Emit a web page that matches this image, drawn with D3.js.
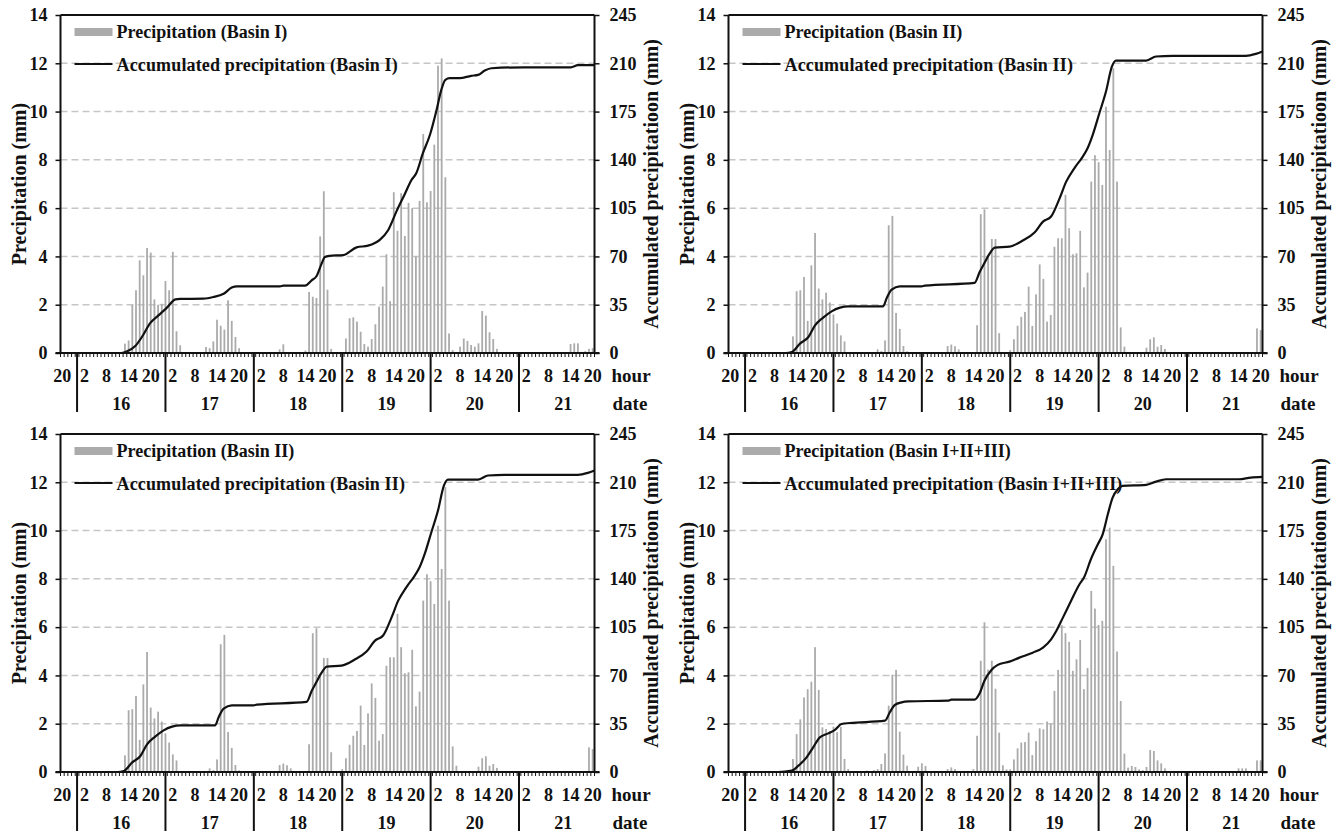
<!DOCTYPE html>
<html>
<head>
<meta charset="utf-8">
<script src="https://cdn.jsdelivr.net/npm/d3@7"></script>
<style>
  body { margin: 0; background: #fff; }
  svg text { font-family: 'Liberation Serif', 'Times New Roman', serif; font-weight: bold; fill: #111; }
</style>
</head>
<body>
<div id="chart"></div>
<script>
// Hourly series start at 20:00 on the 15th (index 0) and end at 20:00 on the 21st (index 144)
const startHour = 20;
const startDay = 15;
const hourCount = 145;
const hourTickStep = 6;
const dayLabels = [16, 17, 18, 19, 20, 21];

const precipTicks = [0, 2, 4, 6, 8, 10, 12, 14];
const accumTicks = [0, 35, 70, 105, 140, 175, 210, 245];

// Hourly precipitation (mm), Basin I
const precipBasinI = [
  0, 0, 0, 0, 0, 0, 0, 0, 0, 0, 0, 0, 0, 0, 0, 0, 0,
  0.39, 0.52, 2.0, 2.6, 3.84, 3.22, 4.35, 4.16, 2.22, 2.0, 2.04, 2.98, 2.6, 4.19, 0.9, 0.32,
  0, 0, 0, 0, 0, 0,
  0.25, 0.2, 0.48, 1.38, 1.13, 0.97, 2.18, 1.33, 0.66, 0.2,
  0, 0, 0, 0, 0, 0, 0, 0, 0, 0,
  0.15, 0.36, 0.04, 0, 0, 0, 0,
  0.1, 2.53, 2.33, 2.28, 4.83, 6.7, 2.62, 0.17, 0, 0, 0,
  0.6, 1.44, 1.48, 1.3, 0.88, 0.37, 0.26, 0.58, 1.19, 1.92, 2.75, 4.09, 2.15, 6.66, 5.06, 6.62,
  4.85, 6.22, 6.0, 4.0, 6.3, 9.07, 6.24, 6.71, 8.63, 11.9, 12.2, 7.28, 0.81, 0.12, 0,
  0.26, 0.6, 0.5, 0.33, 0.26, 0.4, 1.74, 1.55, 0.86, 0.58, 0.17,
  0, 0, 0, 0, 0, 0, 0, 0, 0, 0, 0, 0, 0, 0, 0, 0, 0, 0, 0,
  0.37, 0.4, 0.4, 0.05, 0.08, 0.17, 0.2
];

// Hourly precipitation (mm), Basin II
const precipBasinII = [
  0, 0, 0, 0, 0, 0, 0, 0, 0, 0, 0, 0, 0, 0, 0, 0, 0,
  0.69, 2.56, 2.6, 3.15, 1.33, 3.63, 4.97, 2.67, 2.22, 2.5, 2.09, 1.6, 1.22, 0.73, 0.48,
  0, 0, 0, 0, 0, 0, 0, 0,
  0.15, 0.08, 0.52, 5.29, 5.68, 1.66, 1.0, 0.29, 0.07,
  0, 0, 0, 0, 0, 0, 0, 0, 0, 0,
  0.29, 0.35, 0.28, 0.15, 0, 0, 0, 0,
  1.15, 5.75, 5.95, 4.05, 4.72, 4.72, 0.82, 0, 0,
  0.12, 0.57, 1.13, 1.5, 1.7, 2.75, 1.12, 2.43, 3.67, 3.07, 1.3, 1.57, 4.4, 4.75, 4.75, 6.55,
  5.17, 4.09, 4.13, 5.06, 2.72, 3.33, 7.1, 8.19, 7.9, 6.96, 10.2, 8.41, 11.8, 7.1, 1.06, 0.26,
  0, 0, 0, 0, 0,
  0.22, 0.57, 0.65, 0.26, 0.33, 0.17,
  0, 0, 0, 0, 0, 0, 0, 0, 0, 0, 0, 0, 0, 0, 0, 0, 0, 0, 0, 0, 0, 0, 0, 0,
  1.02, 0.95
];

// Hourly precipitation (mm), Basin I+II+III
const precipBasinAll = [
  0, 0, 0, 0, 0, 0, 0, 0, 0, 0, 0, 0, 0, 0, 0, 0, 0,
  0.54, 1.57, 2.18, 3.09, 3.43, 3.74, 5.17, 3.4, 1.85, 1.78, 1.7, 1.88, 1.65, 1.87, 0.54, 0.12,
  0, 0, 0, 0,
  0.06, 0, 0.08, 0.12, 0.33, 0.77, 2.75, 4.03, 4.23, 1.67, 0.72, 0.26,
  0, 0,
  0.22, 0.36, 0.25, 0, 0, 0, 0, 0,
  0.12, 0.19, 0.12, 0, 0, 0, 0,
  0.12, 1.5, 4.61, 6.2, 4.24, 4.61, 3.45, 1.63, 0.28, 0.11, 0.11,
  0.52, 0.98, 1.22, 1.24, 1.63, 0.7, 1.28, 1.81, 1.77, 2.09, 2.0, 3.36, 4.23, 6.08, 5.75, 5.39,
  4.19, 4.67, 5.47, 3.43, 4.31, 7.5, 6.77, 6.09, 6.26, 9.64, 10.12, 8.54, 4.99, 2.94, 0.76,
  0.18, 0.25, 0.21, 0.11, 0.08, 0.21, 0.91, 0.87, 0.48, 0.36, 0.15,
  0, 0, 0, 0, 0, 0, 0, 0, 0, 0, 0, 0, 0, 0, 0, 0, 0, 0, 0,
  0.15, 0.15, 0.15, 0, 0, 0.48, 0.48
];

// Accumulated precipitation (mm), as [hour index, mm]
const accumBasinI = [
  [0, 0], [16, 0], [17.6, 1.2], [19.8, 5], [21.6, 11.6], [23.9, 21.8], [26.1, 27.3], [28.4, 32.9],
  [30.7, 38.9], [32, 39.2], [38.3, 39.4], [41, 40.6], [43.8, 43], [46, 47.4], [47.4, 48.3],
  [59.1, 48.3], [60, 48.8], [65.9, 48.8], [67.7, 52.7], [69, 55.6], [70.4, 64.8], [71.3, 69.6],
  [72.5, 70.4], [76.3, 71], [79.9, 76.6], [83, 77.8], [86.2, 82], [88.5, 89.2], [90.7, 102.5],
  [93, 115.3], [94.8, 125.4], [96.1, 130.3], [97.9, 144.8], [99.8, 158], [101.6, 176],
  [102.9, 190.7], [104, 198], [105.2, 199.2], [107.9, 199.2], [111, 200.9], [112.9, 201.6],
  [114.7, 204.7], [116.5, 206.4], [125.5, 207.1], [138.1, 207.1], [140, 208.6], [144.5, 208.6]
];

const accumBasinII = [
  [0, 0], [15, 0], [16.7, 0.7], [18.9, 6.8], [21.2, 11.6], [23, 20], [25.2, 25.6], [27.5, 30.2],
  [29.8, 32.9], [32, 33.8], [41.5, 33.8], [42.4, 39.4], [43.8, 45.9], [46, 48.3], [51.9, 48.3],
  [52.8, 48.8], [66.3, 50.8], [67.7, 58.7], [69, 65.3], [70.4, 72], [71.8, 76.4], [75.8, 77.1],
  [79.4, 81.5], [82.6, 87.3], [84.9, 95.2], [87.1, 98.9], [89.4, 112.1], [91.2, 124.2],
  [93.4, 133.9], [95.7, 142.4], [97, 148.4], [98.4, 158.1], [100.2, 173.8], [102, 189.5],
  [103.6, 207.6], [104.7, 212], [112.9, 212], [115.6, 214.9], [120.1, 215.4], [140, 215.4],
  [142.7, 216.8], [144.5, 218.5]
];

const accumBasinAll = [
  [0, 0], [13, 0], [16.7, 1], [18.5, 4.6], [20.7, 10.6], [22.5, 17.9], [24.3, 25.1], [26.6, 28],
  [28.4, 30.5], [30.2, 34.8], [32.5, 35.5], [42, 37.2], [43.3, 43.3], [44.7, 48.6], [46.5, 50.5],
  [48.3, 51.2], [59.1, 51.7], [60, 52.4], [66.3, 52.4], [67.7, 57], [69, 66.2], [70.9, 74],
  [72.5, 77.5], [75.8, 80], [78.5, 82.9], [82.1, 86.5], [84.9, 90.2], [87.1, 96.2], [88.5, 102.2],
  [90.3, 111.9], [92.5, 124], [94.8, 136.1], [96.1, 141.4], [97.9, 154.2], [99.8, 165.1],
  [101.1, 172.3], [102.5, 186.8], [103.8, 198.9], [105.2, 205], [106.5, 207.4], [112.9, 208.1],
  [115.6, 210.5], [118.3, 212.2], [138.1, 212.2], [141.3, 213.4], [144.5, 213.9]
];

const panels = [
  { left: 60.5, top: 15, basin: 'Basin I', bars: precipBasinI, accum: accumBasinI },
  { left: 728.5, top: 15, basin: 'Basin II', bars: precipBasinII, accum: accumBasinII },
  { left: 60.5, top: 434, basin: 'Basin II', bars: precipBasinII, accum: accumBasinII },
  { left: 728.5, top: 434, basin: 'Basin I+II+III', bars: precipBasinAll, accum: accumBasinAll }
];

const width = 534;
const height = 338;
const gray = '#ababab';
const gridGray = '#c6c6c6';

const svg = d3
  .select('#chart')
  .append('svg')
  .attr('width', 1343)
  .attr('height', 834)
  .style('background', '#fff');

const x = d3.scaleLinear().domain([-0.5, hourCount - 0.5]).range([0, width]);
const y = d3.scaleLinear().domain([0, 14]).range([height, 0]);
const yAcc = d3.scaleLinear().domain([0, 245]).range([height, 0]);

function drawPanel(p) {
  const g = svg.append('g').attr('transform', `translate(${p.left},${p.top})`);

  // Dashed horizontal grid
  g.append('g')
    .selectAll('line')
    .data(precipTicks.filter((d) => d > 0 && d < 14))
    .join('line')
    .attr('x1', 0)
    .attr('x2', width)
    .attr('y1', (d) => y(d))
    .attr('y2', (d) => y(d))
    .attr('stroke', gridGray)
    .attr('stroke-width', 1.5)
    .attr('stroke-dasharray', '7 4');

  // Hourly bars
  g.append('g')
    .selectAll('rect')
    .data(p.bars.map((v, i) => ({ i, v })).filter((d) => d.v > 0))
    .join('rect')
    .attr('x', (d) => x(d.i) - 0.9)
    .attr('width', 1.8)
    .attr('y', (d) => y(d.v))
    .attr('height', (d) => y(0) - y(d.v))
    .attr('fill', gray);

  // Accumulated curve
  const line = d3
    .line()
    .x((d) => x(d[0]))
    .y((d) => yAcc(d[1]))
    .curve(d3.curveMonotoneX);
  g.append('path')
    .attr('d', line(p.accum))
    .attr('fill', 'none')
    .attr('stroke', '#111')
    .attr('stroke-width', 2.2);

  // Left axis
  const leftAxis = g.append('g').call(d3.axisLeft(y).tickValues(precipTicks).tickSize(5).tickPadding(8));
  leftAxis.select('.domain').attr('stroke', '#111').attr('stroke-width', 2).attr('d', `M0,0V${height}`);
  leftAxis.selectAll('.tick line').attr('stroke', '#111').attr('stroke-width', 1.5);
  leftAxis.selectAll('.tick text').style('font-size', '18px').attr('font-family', null);

  // Right axis
  const rightAxis = g
    .append('g')
    .attr('transform', `translate(${width},0)`)
    .call(d3.axisRight(yAcc).tickValues(accumTicks).tickSize(5).tickPadding(10));
  rightAxis.select('.domain').attr('stroke', '#111').attr('stroke-width', 2).attr('d', `M0,0V${height}`);
  rightAxis.selectAll('.tick line').attr('stroke', '#111').attr('stroke-width', 1.5);
  rightAxis.selectAll('.tick text').style('font-size', '18px').attr('font-family', null);

  // Top border
  g.append('line')
    .attr('x1', 0)
    .attr('x2', width)
    .attr('y1', 0)
    .attr('y2', 0)
    .attr('stroke', '#111')
    .attr('stroke-width', 2);

  // Bottom axis with hourly minor ticks
  const bottom = g.append('g').attr('transform', `translate(0,${height})`);
  bottom
    .selectAll('.minor')
    .data(d3.range(hourCount + 1))
    .join('line')
    .attr('x1', (d) => x(d - 0.5))
    .attr('x2', (d) => x(d - 0.5))
    .attr('y1', 0)
    .attr('y2', 4)
    .attr('stroke', '#111')
    .attr('stroke-width', 1);
  bottom
    .append('line')
    .attr('x1', -5)
    .attr('x2', width + 5)
    .attr('stroke', '#111')
    .attr('stroke-width', 2);

  // Hour labels every 6 hours
  bottom
    .selectAll('.hour')
    .data(d3.range(0, hourCount, hourTickStep))
    .join('text')
    .attr('x', (d) => x(d))
    .attr('y', 29)
    .attr('text-anchor', 'middle')
    .style('font-size', '18px')
    .text((d) => (startHour + d) % 24);

  // Day separators at midnight
  const midnights = dayLabels.map((day) => (day - startDay) * 24 - startHour);
  bottom
    .selectAll('.sep')
    .data(midnights)
    .join('line')
    .attr('x1', (d) => x(d))
    .attr('x2', (d) => x(d))
    .attr('y1', 0)
    .attr('y2', 59)
    .attr('stroke', '#111')
    .attr('stroke-width', 2);

  // Day labels centered on noon
  bottom
    .selectAll('.day')
    .data(dayLabels)
    .join('text')
    .attr('x', (d) => x((d - startDay) * 24 - startHour + 12))
    .attr('y', 57)
    .attr('text-anchor', 'middle')
    .style('font-size', '18px')
    .text((d) => d);

  bottom.append('text').attr('x', width + 17).attr('y', 29).style('font-size', '19px').text('hour');
  bottom.append('text').attr('x', width + 18).attr('y', 57).style('font-size', '19px').text('date');

  // Axis titles
  g.append('text')
    .attr('transform', `translate(${-35},${height / 2}) rotate(-90)`)
    .attr('text-anchor', 'middle')
    .style('font-size', '20px')
    .text('Precipitation (mm)');
  g.append('text')
    .attr('transform', `translate(${width + 63},${height / 2}) rotate(-90)`)
    .attr('text-anchor', 'middle')
    .style('font-size', '20px')
    .text('Accumulated precipitatioon (mm)');

  // Legend
  const legend = g.append('g').attr('transform', 'translate(14,0)');
  legend.append('rect').attr('x', 0).attr('y', 13).attr('width', 38).attr('height', 8).attr('fill', gray);
  legend.append('text').attr('x', 42).attr('y', 23).style('font-size', '18px').text(`Precipitation (${p.basin})`);
  legend
    .append('line')
    .attr('x1', 0)
    .attr('x2', 38)
    .attr('y1', 49)
    .attr('y2', 49)
    .attr('stroke', '#111')
    .attr('stroke-width', 2.2);
  legend
    .append('text')
    .attr('x', 42)
    .attr('y', 56)
    .style('font-size', '18px')
    .style('letter-spacing', '0.15px')
    .text(`Accumulated precipitation (${p.basin})`);
}

panels.forEach(drawPanel);
</script>
</body>
</html>
